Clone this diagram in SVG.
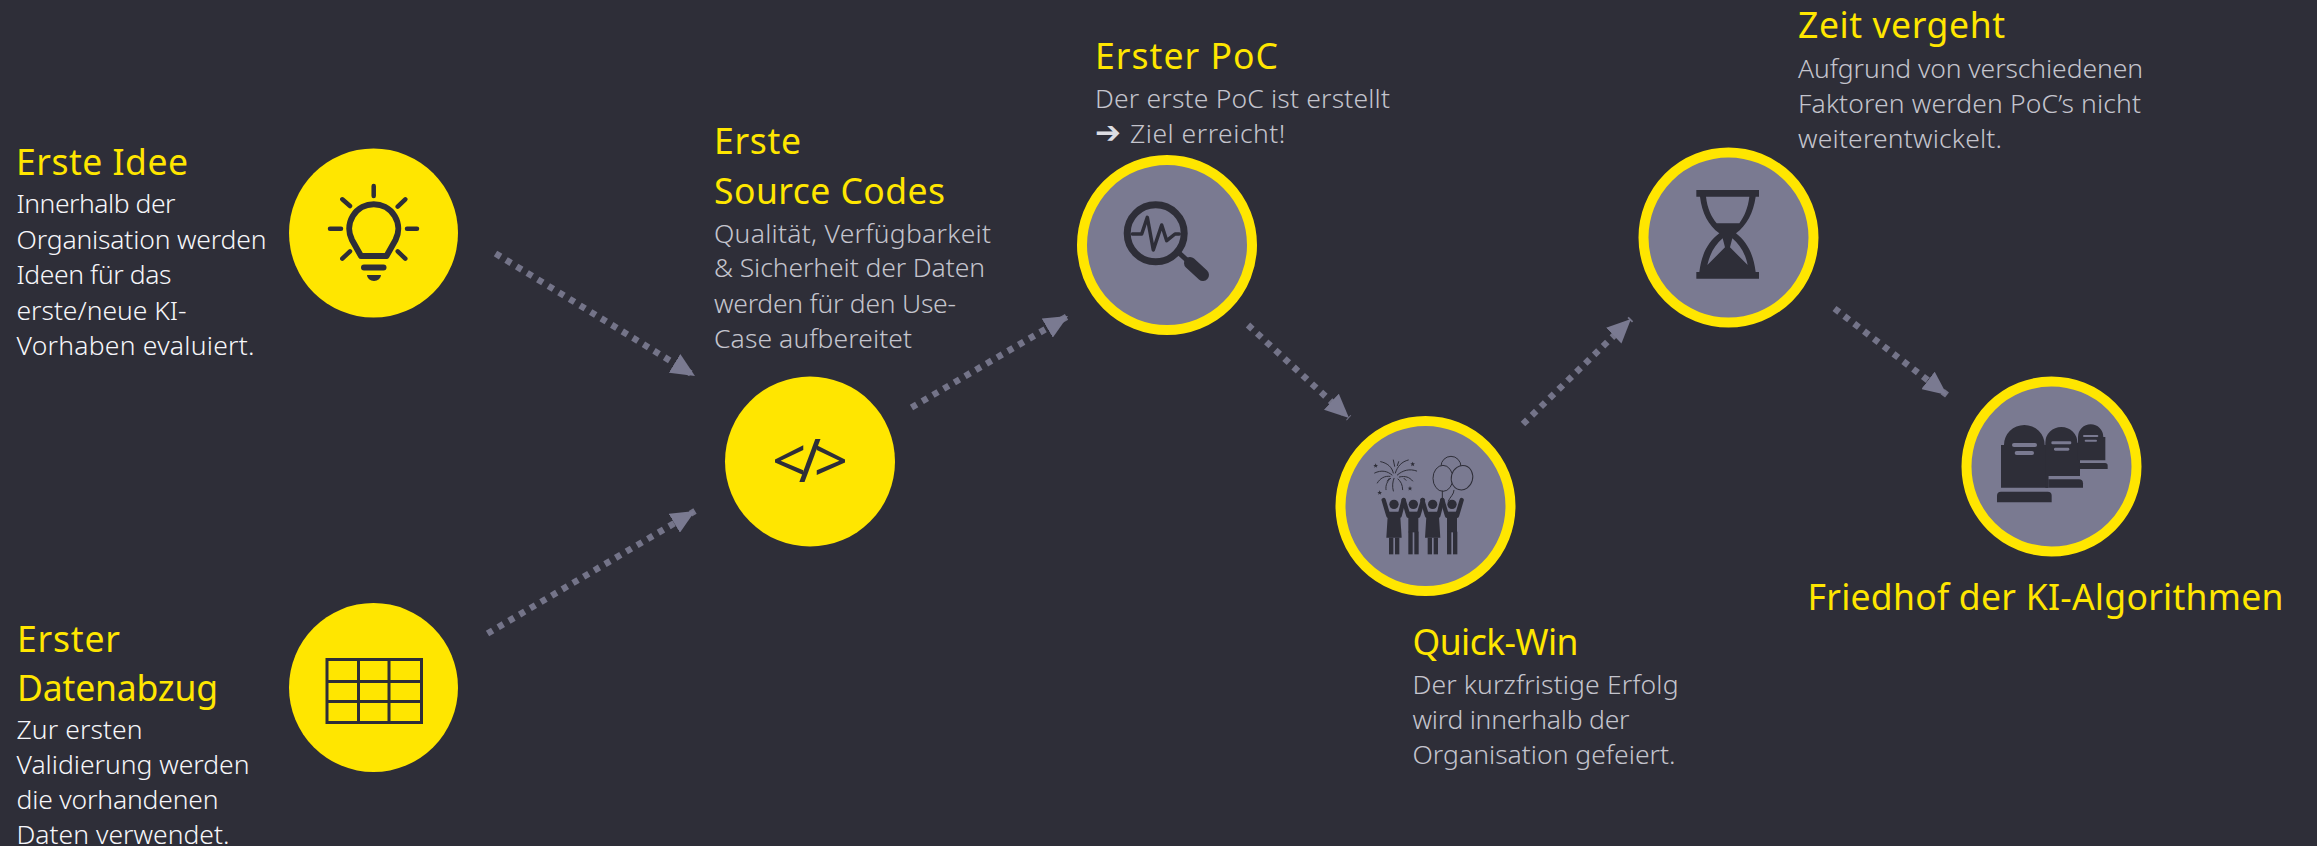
<svg xmlns="http://www.w3.org/2000/svg" xmlns:xlink="http://www.w3.org/1999/xlink" width="2317" height="846" viewBox="0 0 2317 846">
<style>
text{font-family:"Noto Sans","Open Sans","Liberation Sans",sans-serif}
.t{font-size:35.500px;fill:#ffe600;font-weight:400}
.b{font-size:26.500px;fill:#c4c4cd;font-weight:300}
.w{font-size:26.500px;fill:#f6f6fa;font-weight:300}
.y{fill:#ffe600}
.g{fill:#7a7a91;stroke:#ffe600;stroke-width:10}
.d{fill:#2e2e38}
.l{fill:none;stroke:#2e2e38;stroke-linecap:round;stroke-linejoin:round}
.c{fill:none;stroke:#747489;stroke-width:6.500;stroke-dasharray:6 6.400;marker-end:url(#ah)}
</style>
<defs>
<marker id="ah" markerUnits="userSpaceOnUse" markerWidth="24" markerHeight="22" viewBox="0 0 24 22" refX="24" refY="11" orient="auto"><path d="M0 0L24 11L0 22Z" fill="#7a7a91"/></marker>
<g id="fem"><circle cx="0" cy="0" r="14"/><path d="M-31 -13L-17 34M29 -13L17 34" fill="none" stroke="#2e2e38" stroke-width="13" stroke-linecap="round"/><path d="M-18 22H18L23 100H-23Z"/><rect x="-15" y="100" width="13" height="50"/><rect x="3" y="100" width="13" height="50"/></g>
<g id="mal"><circle cx="0" cy="0" r="14"/><path d="M-29 -13L-15 34M29 -13L15 34" fill="none" stroke="#2e2e38" stroke-width="13" stroke-linecap="round"/><rect x="-15" y="22" width="30" height="62"/><rect x="-15" y="82" width="13" height="68"/><rect x="3" y="82" width="13" height="68"/></g>
</defs>
<rect id="background" width="2317" height="846" fill="#2e2e38"/>
<g id="connectors">
<path class="c" d="M495.500 253.500L695 376"/>
<path class="c" d="M487.500 633.500L695 511"/>
<path class="c" d="M911.500 407.500L1068 316"/>
<path class="c" d="M1248 325L1349 418"/>
<path class="c" d="M1523 424L1631 319"/>
<path class="c" d="M1834.500 308.500L1947 395"/>
</g>
<g id="node-idee">
<circle class="y" cx="373.500" cy="233" r="84.500"/>
<g transform="translate(0 1)">
<g class="l" stroke-width="4.500"><path d="M373.700 185V195M330 227.700H341M407 227.700H417M342.300 198.300L350 205M405.300 198.300L397.700 205.700M342.300 257.700L350 250.300M405.300 257.700L397.700 250.300"/></g>
<path class="l" stroke-width="6" d="M361 255L352 239A24.500 24.500 0 1 1 395.500 239L386.500 255Z"/>
<rect class="d" x="361" y="263.500" width="25.500" height="6" rx="3"/>
<path class="d" d="M367 274H381A7 6 0 0 1 367 274Z"/>
</g>
<text class="t" x="16" y="175" textLength="172">Erste Idee</text>
<text class="w" x="16.500" y="213" textLength="159">Innerhalb der</text>
<text class="w" x="16.500" y="248.500" textLength="250">Organisation werden</text>
<text class="w" x="16.500" y="284" textLength="155">Ideen für das</text>
<text class="w" x="16.500" y="319.500" textLength="170">erste/neue KI-</text>
<text class="w" x="16.500" y="355" textLength="238">Vorhaben evaluiert.</text>
</g>
<g id="node-daten">
<circle class="y" cx="373.500" cy="687.500" r="84.500"/>
<path fill="none" stroke="#2e2e38" stroke-width="3" d="M327 659.500H421.500V722.500H327ZM358.500 659.500V722.500M389 659.500V722.500M327 681.500H421.500M327 701.500H421.500"/>
<text class="t" x="17" y="652" textLength="103">Erster</text>
<text class="t" x="17" y="700.500" textLength="201">Datenabzug</text>
<text class="w" x="16.500" y="738.500" textLength="126">Zur ersten</text>
<text class="w" x="16.500" y="774" textLength="233">Validierung werden</text>
<text class="w" x="16.500" y="809" textLength="202">die vorhandenen</text>
<text class="w" x="16.500" y="844" textLength="213">Daten verwendet.</text>
</g>
<g id="node-code">
<circle class="y" cx="810" cy="461.500" r="85"/>
<text x="810" y="482" text-anchor="middle" font-size="60" fill="#2e2e38" textLength="76">&lt;/&gt;</text>
<text class="t" x="714" y="154" textLength="87">Erste</text>
<text class="t" x="714" y="204" textLength="231">Source Codes</text>
<text class="b" x="714" y="243" textLength="277">Qualität, Verfügbarkeit</text>
<text class="b" x="714" y="277" textLength="271">&amp; Sicherheit der Daten</text>
<text class="b" x="714" y="313" textLength="242">werden für den Use-</text>
<text class="b" x="714" y="348" textLength="198">Case aufbereitet</text>
</g>
<g id="node-poc">
<circle class="g" cx="1167" cy="245" r="85"/>
<circle class="l" stroke-width="7" cx="1155.700" cy="233.300" r="28.500"/>
<path class="l" stroke-width="3.500" d="M1132.300 234H1141.700L1147.300 217.300L1153.300 250L1161.700 225L1166.700 240.700L1175 234H1179.300"/>
<path class="l" stroke-width="5" d="M1178 252L1190 263"/>
<path class="l" stroke-width="12" d="M1190 263L1203 275"/>
<text class="t" x="1095" y="69" textLength="183">Erster PoC</text>
<text class="b" x="1095" y="108" textLength="295">Der erste PoC ist erstellt</text>
<text class="b" x="1095" y="143" letter-spacing=".5"><tspan font-family="DejaVu Sans" font-size="31" fill="#dcdce2">➔</tspan> <tspan x="1130">Ziel erreicht!</tspan></text>
</g>
<g id="node-quickwin">
<circle class="g" cx="1425.500" cy="506" r="85"/>
<g transform="translate(1300 391) scale(.33333)" class="d">
<use href="#fem" x="282" y="340"/>
<use href="#mal" x="340" y="340"/>
<use href="#fem" x="398" y="340"/>
<use href="#mal" x="456" y="340"/>
<g fill="none" stroke="#2e2e38" stroke-width="3" stroke-linecap="round">
<path d="M242 212C262 216 276 228 280 246M325 207C305 212 292 226 286 246M224 246C245 236 262 240 276 252M350 240C328 232 308 238 292 252M232 276C240 262 254 254 270 256M338 270C328 258 316 254 298 258M280 207L284 226M296 212L292 224M258 296C256 282 262 270 272 262M308 296C308 282 302 270 294 264M280 300C276 286 278 272 282 262M262 270L268 262M312 262L318 268"/>
<ellipse cx="453" cy="226" rx="30" ry="30" fill="#7a7a91"/>
<ellipse cx="429" cy="262" rx="30" ry="39" fill="#7a7a91"/>
<ellipse cx="486" cy="260" rx="32" ry="37" transform="rotate(15 486 260)" fill="#7a7a91"/>
<path d="M427 300V325M462 298C462 310 450 318 445 330"/>
</g>
<g class="d"><path d="M227 217l2 5 5 .5-4 3 1.500 5-4.500-3-4.500 3 1.500-5-4-3 5-.5Z"/><path d="M338 212l2 5 5 .5-4 3 1.500 5-4.500-3-4.500 3 1.500-5-4-3 5-.5Z"/><path d="M239 298l2 5 5 .5-4 3 1.500 5-4.500-3-4.500 3 1.500-5-4-3 5-.5Z"/><path d="M330 285l2 5 5 .5-4 3 1.500 5-4.500-3-4.500 3 1.500-5-4-3 5-.5Z"/></g>
</g>
<text class="t" x="1412.500" y="654.500" textLength="166">Quick-Win</text>
<text class="b" x="1412.500" y="693.500" textLength="266">Der kurzfristige Erfolg</text>
<text class="b" x="1412.500" y="728.500" textLength="217">wird innerhalb der</text>
<text class="b" x="1412.500" y="763.500" textLength="263">Organisation gefeiert.</text>
</g>
<g id="node-zeit">
<circle class="g" cx="1728.500" cy="237.500" r="85"/>
<g transform="translate(1600 130) scale(.33333)">
<path class="d" d="M289 180H477V200H467C460 250 440 285 408 310C440 335 460 370 467 426H477V446H289V426H298C305 370 325 335 358 310C325 285 306 250 300 200H289Z"/>
<path fill="#7a7a91" d="M318 200H448C444 235 432 260 418 280H350C334 260 322 235 318 200ZM322 405C330 370 345 345 368 325L375 352ZM443 405C436 370 420 345 397 325L390 352Z"/>
</g>
<text class="t" x="1798" y="38.300" textLength="207">Zeit vergeht</text>
<text class="b" x="1798" y="78" textLength="345">Aufgrund von verschiedenen</text>
<text class="b" x="1798" y="113" textLength="343">Faktoren werden PoC’s nicht</text>
<text class="b" x="1798" y="148" textLength="204">weiterentwickelt.</text>
</g>
<g id="node-friedhof">
<circle class="g" cx="2051.500" cy="466.500" r="85"/>
<g transform="translate(1950 371) scale(.33333)">
<path class="d" d="M153 350V222H162A61 60 0 0 1 284 222H295V350Z"/>
<path class="d" d="M141 394V374Q141 362 153 362H293Q305 362 305 374V394Z"/>
<path class="d" d="M286 215A48 47 0 0 1 382 215H390V315H295V350H286Z"/>
<path class="d" d="M295 325H387Q399 325 399 337V350H295Z"/>
<path class="d" d="M384 198A38 38 0 0 1 460 198H466V268H384Z"/>
<path class="d" d="M390 276H465Q473 276 473 284V294H390Z"/>
<g fill="#7a7a91"><rect x="186" y="216" width="75" height="12" rx="6"/><rect x="194" y="240" width="58" height="12" rx="6"/><rect x="304" y="211" width="60" height="9" rx="4"/><rect x="312" y="230" width="46" height="9" rx="4"/><rect x="399" y="192" width="46" height="6" rx="3"/><rect x="404" y="206" width="37" height="6" rx="3"/></g>
</g>
<text class="t" x="1807.500" y="610" textLength="476">Friedhof der KI-Algorithmen</text>
</g>
</svg>
